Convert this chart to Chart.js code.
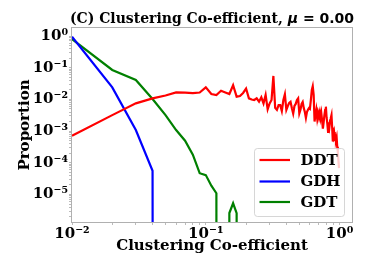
<!DOCTYPE html>
<html><head><meta charset="utf-8">
<script src="https://cdn.jsdelivr.net/npm/chart.js@4/dist/chart.umd.min.js"></script>
<style>html,body{margin:0;padding:0;background:#fff;}#wrap{width:390px;height:262px;}</style>
</head><body><div id="wrap"><canvas id="c" width="390" height="262"></canvas></div>
<script>
const TITLE_MAIN = '(C) Clustering Co-efficient, ';
const TITLE_MU = 'μ';
const TITLE_VAL = ' = 0.00';
const X_LABEL = 'Clustering Co-efficient';
const Y_LABEL = 'Proportion';
const SERIES_NAMES = ['DDT', 'GDH', 'GDT'];
const SERIES_COLORS = ['#ff0000', '#0000ff', '#008000'];

// clustering coefficient bins (categories)
const coeff = [0.01,0.02,0.03,0.04,0.05,0.06,0.07,0.08,0.09,0.10,
  0.11,0.12,0.13,0.14,0.15,0.16,0.17,0.18,0.19,0.20,
  0.21,0.22,0.23,0.24,0.25,0.26,0.27,0.28,0.29,0.30,
  0.31,0.32,0.33,0.34,0.35,0.36,0.37,0.38,0.39,0.40,
  0.41,0.42,0.43,0.44,0.45,0.46,0.47,0.48,0.49,0.50,
  0.51,0.52,0.53,0.54,0.55,0.56,0.57,0.58,0.59,0.60,
  0.61,0.62,0.63,0.64,0.65,0.66,0.67,0.68,0.69,0.70,
  0.71,0.72,0.73,0.74,0.75,0.76,0.77,0.78,0.79,0.80,
  0.81,0.82,0.83,0.84,0.85,0.86,0.87,0.88,0.89,0.90,
  0.91,0.92,0.93,0.94,0.95,0.96,0.97,0.98,0.99];

const ddt = [0.00072,0.0032,0.0075,0.0108,0.0133,0.0167,0.0163,0.0159,0.0165,0.024,
  0.0148,0.0138,0.0188,0.0166,0.0148,0.028,0.0122,0.0128,0.016,0.022,
  0.0108,0.0099,0.0096,0.0108,0.0085,0.0117,0.0075,0.0138,0.0049,0.0075,
  0.0096,0.055,0.0054,0.0047,0.0066,0.0066,0.0043,0.0096,0.0145,0.0047,
  0.0062,0.0077,0.0084,0.0053,0.0036,0.0062,0.0072,0.0096,0.0108,0.0036,
  0.0047,0.0072,0.0083,0.0053,0.004,0.0026,0.004,0.0047,0.0053,0.005,
  0.0096,0.02,0.026,0.014,0.002,0.0032,0.0047,0.0026,0.004,0.0032,
  0.0041,0.0026,0.0037,0.0022,0.0012,0.0019,0.0032,0.0047,0.0059,0.0026,
  0.0017,0.00095,0.0019,0.0014,0.0022,0.0026,0.0032,0.0013,0.00047,0.00075,
  0.00093,0.00061,0.00067,0.00053,0.00064,0.00032,0.00022,0.00012,0.000068];

const gdh = [0.95,0.024,0.00108,0.000056,0];

const gdt = [0.80,0.085,0.041,0.0103,0.0032,0.00108,0.0005,0.00018,0.000047,0.000041,
  0.000019,0.000011,0,0,0.0000026,0.0000053,0.0000026,0];

const xTickValues = [0.01, 0.1, 1];
const xTickLabels = ['10⁻²', '10⁻¹', '10⁰'];
const yTickValues = [1e-5, 1e-4, 1e-3, 1e-2, 1e-1, 1];
const yTickLabels = ['10⁻⁵', '10⁻⁴', '10⁻³', '10⁻²', '10⁻¹', '10⁰'];

const X_MIN = 0.01, X_MAX = 1.238;
const Y_MIN = 1.36e-6, Y_MAX = 1.79;

// matplotlib clips non-positive values on a log axis to a tiny positive number
function toPoints(vals) {
  return vals.map((v, i) => ({ x: coeff[i], y: v > 0 ? v : 1e-300 }));
}

function logTicks(min, max) {
  const out = [];
  for (let e = Math.floor(Math.log10(min)); e <= Math.ceil(Math.log10(max)); e++) {
    for (let m = 1; m <= 9; m++) {
      const v = m * Math.pow(10, e);
      if (v >= min * 0.9999 && v <= max * 1.0001) out.push({ value: v });
    }
  }
  return out;
}
function labelFor(v, vals, labels) {
  for (let i = 0; i < vals.length; i++) {
    if (Math.abs(v - vals[i]) / vals[i] < 1e-6) return labels[i];
  }
  return '';
}

const boldSerif = (size) => ({ family: 'DejaVu Serif', weight: 'bold', size: size });

const framePlugin = {
  id: 'frame',
  afterDatasetsDraw(chart) {
    const a = chart.chartArea, ctx = chart.ctx;
    ctx.save();
    ctx.strokeStyle = '#b0b0b0';
    ctx.lineWidth = 1;
    ctx.strokeRect(Math.round(a.left) - 0.5, Math.round(a.top) - 0.5,
      Math.round(a.right - a.left) + 1, Math.round(a.bottom - a.top) + 1);
    ctx.restore();
  }
};

const legendPlugin = {
  id: 'boxLegend',
  afterDatasetsDraw(chart) {
    const a = chart.chartArea, ctx = chart.ctx;
    const w = 90, h = 68;
    const x0 = a.right - 8 - w, y0 = a.bottom - 6 - h;
    ctx.save();
    ctx.beginPath();
    ctx.roundRect(x0 + 0.5, y0 + 0.5, w, h, 3);
    ctx.fillStyle = 'rgba(255,255,255,0.8)';
    ctx.fill();
    ctx.strokeStyle = 'rgba(204,204,204,0.8)';
    ctx.lineWidth = 1;
    ctx.stroke();
    const rows = [12, 33.5, 54];
    ctx.font = 'bold 15px "DejaVu Serif"';
    ctx.textBaseline = 'middle';
    ctx.textAlign = 'left';
    chart.data.datasets.forEach((ds, i) => {
      const y = y0 + rows[i];
      ctx.beginPath();
      ctx.moveTo(x0 + 5.5, y);
      ctx.lineTo(x0 + 36, y);
      ctx.strokeStyle = ds.borderColor;
      ctx.lineWidth = 2.2;
      ctx.stroke();
      ctx.fillStyle = '#000';
      ctx.fillText(ds.label, x0 + 46.5, y + 1);
    });
    ctx.restore();
  }
};

const titlePlugin = {
  id: 'mixedTitle',
  afterDraw(chart) {
    const a = chart.chartArea, ctx = chart.ctx;
    const parts = [
      [TITLE_MAIN, 'bold 14px "DejaVu Serif"'],
      [TITLE_MU, 'italic bold 14px "DejaVu Sans"'],
      [TITLE_VAL, 'bold 14px "DejaVu Sans"']
    ];
    ctx.save();
    let total = 0;
    parts.forEach(p => { ctx.font = p[1]; total += ctx.measureText(p[0]).width; });
    let x = (a.left + a.right) / 2 - total / 2;
    ctx.fillStyle = '#000';
    ctx.textBaseline = 'alphabetic';
    ctx.textAlign = 'left';
    parts.forEach(p => { ctx.font = p[1]; ctx.fillText(p[0], x, 23); x += ctx.measureText(p[0]).width; });
    ctx.restore();
  }
};

const datasets = [ddt, gdh, gdt].map((vals, i) => ({
  label: SERIES_NAMES[i],
  data: toPoints(vals),
  borderColor: SERIES_COLORS[i],
  backgroundColor: SERIES_COLORS[i],
  borderWidth: 2.2,
  pointRadius: 0,
  tension: 0,
  clip: 0
}));

new Chart(document.getElementById('c'), {
  type: 'line',
  data: { datasets: datasets },
  options: {
    responsive: false,
    animation: false,
    devicePixelRatio: 1,
    layout: { padding: { top: 28, right: 38, left: 0, bottom: 0 } },
    plugins: { legend: { display: false }, title: { display: false }, tooltip: { enabled: false } },
    scales: {
      x: {
        type: 'logarithmic', min: X_MIN, max: X_MAX,
        afterBuildTicks(s) { s.ticks = logTicks(X_MIN, X_MAX); },
        afterFit(s) { s.height = 40; },
        ticks: {
          autoSkip: false, maxRotation: 0, minRotation: 0, padding: 0,
          color: '#000', font: boldSerif(15),
          callback: (v) => labelFor(v, xTickValues, xTickLabels)
        },
        grid: { drawOnChartArea: false, drawTicks: true, tickLength: 3, color: '#bbbbbb' },
        border: { display: false },
        title: { display: true, text: X_LABEL, color: '#000', font: boldSerif(15), padding: { top: 0, bottom: 7 } }
      },
      y: {
        type: 'logarithmic', min: Y_MIN, max: Y_MAX,
        afterBuildTicks(s) { s.ticks = logTicks(Y_MIN, Y_MAX); },
        afterFit(s) { s.width = 72; },
        ticks: {
          autoSkip: false, padding: 1,
          color: '#000', font: boldSerif(15),
          callback: (v) => labelFor(v, yTickValues, yTickLabels)
        },
        grid: { drawOnChartArea: false, drawTicks: true, tickLength: 3, color: '#bbbbbb' },
        border: { display: false },
        title: { display: true, text: Y_LABEL, color: '#000', font: boldSerif(15), padding: { top: 16, bottom: 0 } }
      }
    }
  },
  plugins: [framePlugin, legendPlugin, titlePlugin]
});
</script>
</body></html>
